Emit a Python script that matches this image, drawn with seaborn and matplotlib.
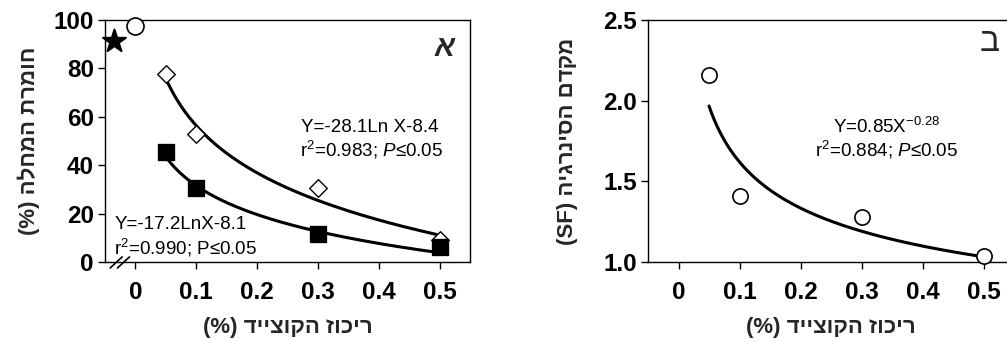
import numpy as np
import pandas as pd
import matplotlib
matplotlib.use("Agg")
import matplotlib.pyplot as plt
import seaborn as sns

# ---------------- data ----------------
conc = [0.05, 0.1, 0.3, 0.5]                  # x: concentration (%)
severity_open = [77.7, 52.8, 30.4, 9.0]       # open diamonds
severity_filled = [45.4, 30.7, 11.5, 6.0]     # filled squares
control_star_x = [-0.035]
control_star_y = [91.3]
control_circle_x = [0.0]
control_circle_y = [97.4]
sf_values = [2.16, 1.41, 1.28, 1.04]          # synergy factor

# fitted trend-line coefficients (printed on chart)
fit_open = (-28.1, -8.4)      # Y = a*ln X + b
fit_filled = (-17.2, -8.1)
fit_sf = (0.85, -0.28)        # Y = a*X^b

xticks = [0, 0.1, 0.2, 0.3, 0.4, 0.5]
xtick_labels = ["0", "0.1", "0.2", "0.3", "0.4", "0.5"]
yticks_a = [0, 20, 40, 60, 80, 100]
yticks_b = [1.0, 1.5, 2.0, 2.5]
ytick_labels_b = ["1.0", "1.5", "2.0", "2.5"]

xlabel_heb = "ריכוז הקוצייד"
ylabel_a_heb = "חומרת המחלה"
ylabel_b_heb = "מקדם הסינרגיה"
panel_a = "א"
panel_b = "ב"


def visual(heb, paren):
    # matplotlib has no bidi support: lay the RTL text out in visual order
    return f"{paren} {heb[::-1]}"


sns.set_theme(style="ticks")
plt.rcParams["font.family"] = ["Liberation Sans", "DejaVu Sans"]
plt.rcParams["mathtext.fontset"] = "custom"
plt.rcParams["mathtext.rm"] = "Liberation Sans"
plt.rcParams["mathtext.it"] = "Liberation Sans:italic"
plt.rcParams["mathtext.bf"] = "Liberation Sans:bold"
plt.rcParams["axes.linewidth"] = 1.0
plt.rcParams["xtick.major.width"] = 1.0
plt.rcParams["ytick.major.width"] = 1.0
plt.rcParams["xtick.major.size"] = 5
plt.rcParams["ytick.major.size"] = 5
plt.rcParams["xtick.color"] = "black"
plt.rcParams["ytick.color"] = "black"
plt.rcParams["axes.edgecolor"] = "black"

fig = plt.figure(figsize=(10.07, 3.42), dpi=100)
axA = fig.add_axes([0.1043, 0.234, 0.3625, 0.7076])
axB = fig.add_axes([0.6435, 0.234, 0.3635, 0.7076])

tick_font = dict(fontsize=17.5, fontweight="bold")
label_font = dict(fontsize=16, fontweight="bold")
ann_font = dict(fontsize=13.5, color="black")

# ---------------- panel A ----------------
xs = np.linspace(min(conc), max(conc), 200)
sns.lineplot(x=xs, y=fit_open[0] * np.log(xs) + fit_open[1], ax=axA,
             color="black", lw=2.2)
sns.lineplot(x=xs, y=fit_filled[0] * np.log(xs) + fit_filled[1], ax=axA,
             color="black", lw=2.2)
sns.scatterplot(x=conc, y=severity_open, ax=axA, marker="D", s=80,
                facecolor="white", edgecolor="black", linewidth=1.0, zorder=5)
sns.scatterplot(x=conc, y=severity_filled, ax=axA, marker="s", s=140,
                color="black", edgecolor="black", zorder=5)
sns.scatterplot(x=control_star_x, y=control_star_y, ax=axA, marker="*", s=300,
                color="black", edgecolor="black", zorder=5, clip_on=False)
sns.scatterplot(x=control_circle_x, y=control_circle_y, ax=axA, marker="o", s=150,
                facecolor="white", edgecolor="black", linewidth=1.2, zorder=5,
                clip_on=False)

axA.set_xlim(-0.05, 0.55)
axA.set_ylim(0, 100)
axA.set_xticks(xticks)
axA.set_xticklabels(xtick_labels, **tick_font)
axA.set_yticks(yticks_a)
axA.set_yticklabels([str(v) for v in yticks_a], **tick_font)
axA.tick_params(axis="x", pad=9)
axA.tick_params(axis="y", pad=3)
axA.set_xlabel(visual(xlabel_heb, "(%)"), labelpad=9, **label_font)
axA.set_ylabel(visual(ylabel_a_heb, "(%)"), labelpad=10, **label_font)
for sp in axA.spines.values():
    sp.set_visible(True)
    sp.set_color("black")

# axis break marks
for dx in (0.0, 0.02):
    axA.plot([0.014 + dx, 0.047 + dx], [-0.025, 0.021], transform=axA.transAxes,
             color="black", lw=1.2, clip_on=False)

axA.text(0.93, 0.886, panel_a, transform=axA.transAxes, fontsize=21,
         fontweight="bold", style="italic", ha="center", va="center")
axA.text(0.726, 0.554, "Y=-28.1Ln X-8.4", transform=axA.transAxes,
         ha="center", va="center", **ann_font)
axA.text(0.73, 0.463, r"r$^{2}$=0.983; $\mathit{P}$≤0.05",
         transform=axA.transAxes, ha="center", va="center", **ann_font)
axA.text(0.027, 0.153, "Y=-17.2LnX-8.1", transform=axA.transAxes,
         ha="left", va="center", **ann_font)
axA.text(0.025, 0.058, r"r$^{2}$=0.990; P≤0.05",
         transform=axA.transAxes, ha="left", va="center", **ann_font)

# ---------------- panel B ----------------
sns.lineplot(x=xs, y=fit_sf[0] * xs ** fit_sf[1], ax=axB, color="black", lw=2.2)
sns.scatterplot(x=conc, y=sf_values, ax=axB, marker="o", s=120,
                facecolor="white", edgecolor="black", linewidth=1.2, zorder=5,
                clip_on=False)
axB.set_xlim(-0.05, 0.55)
axB.set_ylim(1.0, 2.5)
axB.set_xticks(xticks)
axB.set_xticklabels(xtick_labels, **tick_font)
axB.set_yticks(yticks_b)
axB.set_yticklabels(ytick_labels_b, **tick_font)
axB.tick_params(axis="x", pad=9)
axB.tick_params(axis="y", pad=3)
axB.set_xlabel(visual(xlabel_heb, "(%)"), labelpad=9, **label_font)
axB.set_ylabel(visual(ylabel_b_heb, "(SF)"), labelpad=18, **label_font)
for sp in axB.spines.values():
    sp.set_visible(True)
    sp.set_color("black")

axB.text(0.934, 0.905, panel_b, transform=axB.transAxes, fontsize=24,
         ha="center", va="center")
axB.text(0.653, 0.558, r"Y=0.85X$^{-0.28}$", transform=axB.transAxes,
         ha="center", va="center", **ann_font)
axB.text(0.653, 0.463, r"r$^{2}$=0.884; $\mathit{P}$≤0.05",
         transform=axB.transAxes, ha="center", va="center", **ann_font)

fig.savefig("out.png", dpi=100)
